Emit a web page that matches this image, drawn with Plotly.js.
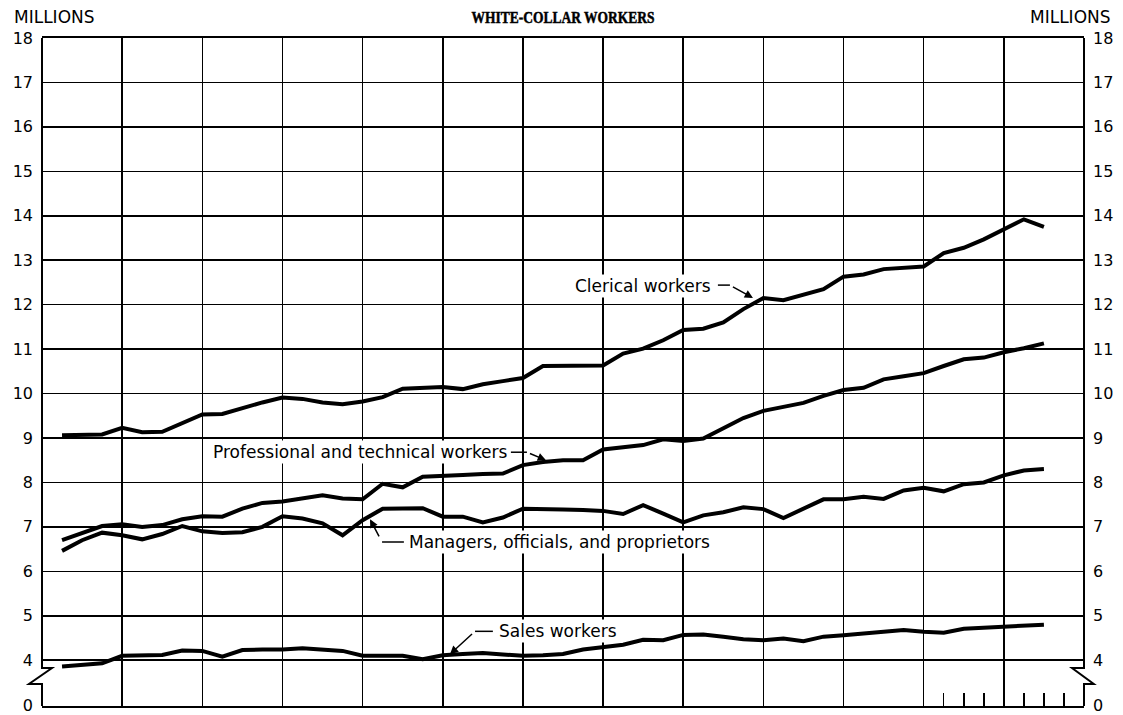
<!DOCTYPE html>
<html>
<head>
<meta charset="utf-8">
<script src="https://cdn.plot.ly/plotly-3.0.1.min.js"></script>
<style>html,body{margin:0;padding:0;background:#fff;}#chart{width:1123px;height:715px;}</style>
</head>
<body>
<div id="chart"></div>
<script>
// Quarterly employment, millions
const clerical = [9.06, 9.07, 9.08, 9.23, 9.13, 9.14, 9.33, 9.53, 9.54, 9.68,
  9.80, 9.91, 9.88, 9.80, 9.76, 9.82, 9.92, 10.11, 10.13, 10.15,
  10.10, 10.21, 10.28, 10.35, 10.62, 10.63, 10.63, 10.63, 10.90, 11.01,
  11.20, 11.43, 11.46, 11.60, 11.90, 12.15, 12.10, 12.22, 12.35, 12.63,
  12.68, 12.80, 12.84, 12.86, 13.16, 13.28, 13.47, 13.70, 13.92, 13.75];
const professional = [6.70, 6.86, 7.02, 7.06, 7.00, 7.04, 7.17, 7.24, 7.23, 7.41,
  7.54, 7.57, 7.64, 7.71, 7.64, 7.62, 7.97, 7.89, 8.13, 8.16,
  8.17, 8.19, 8.20, 8.39, 8.46, 8.50, 8.50, 8.74, 8.79, 8.84,
  8.97, 8.93, 8.99, 9.22, 9.45, 9.61, 9.70, 9.79, 9.95, 10.08,
  10.13, 10.32, 10.39, 10.46, 10.62, 10.77, 10.81, 10.93, 11.02, 11.13];
const managers = [6.46, 6.70, 6.87, 6.81, 6.72, 6.84, 7.02, 6.90, 6.86, 6.88,
  7.00, 7.24, 7.19, 7.08, 6.81, 7.15, 7.41, 7.42, 7.42, 7.23,
  7.23, 7.10, 7.21, 7.41, 7.41, 7.39, 7.38, 7.36, 7.29, 7.49,
  7.30, 7.10, 7.26, 7.33, 7.44, 7.40, 7.20, 7.40, 7.62, 7.62,
  7.68, 7.63, 7.82, 7.88, 7.80, 7.96, 8.00, 8.16, 8.27, 8.30];
const sales = [3.86, 3.90, 3.93, 4.10, 4.12, 4.12, 4.22, 4.21, 4.08, 4.23,
  4.24, 4.24, 4.27, 4.25, 4.21, 4.10, 4.10, 4.10, 4.02, 4.11,
  4.14, 4.16, 4.13, 4.10, 4.11, 4.14, 4.24, 4.30, 4.35, 4.46,
  4.45, 4.57, 4.58, 4.53, 4.47, 4.45, 4.49, 4.43, 4.53, 4.56,
  4.60, 4.65, 4.68, 4.64, 4.62, 4.71, 4.73, 4.75, 4.77, 4.80];

const yTickLabels = ['0','4','5','6','7','8','9','10','11','12','13','14','15','16','17','18'];
const yTickValues = [2.975, 4, 5, 6, 7, 8, 9, 10, 11, 12, 13, 14, 15, 16, 17, 18];
const yearBoundaries = [4, 8, 12, 16, 20, 24, 28, 32, 36, 40, 44, 48];
const quarterMarks = [45, 46, 47, 49, 50, 51];

const quarterIndex = clerical.map((_, i) => i + 1);

const lineStyle = {color: '#000', width: 4};
const traces = [
  {x: quarterIndex, y: clerical, name: 'Clerical workers', mode: 'lines', line: lineStyle},
  {x: quarterIndex, y: professional, name: 'Professional and technical workers', mode: 'lines', line: lineStyle},
  {x: quarterIndex, y: managers, name: 'Managers, officials, and proprietors', mode: 'lines', line: lineStyle},
  {x: quarterIndex, y: sales, name: 'Sales workers', mode: 'lines', line: lineStyle},
  {x: [], y: [], xaxis: 'x2', yaxis: 'y', mode: 'lines', hoverinfo: 'skip'},
  {x: [], y: [], xaxis: 'x', yaxis: 'y2', mode: 'lines', hoverinfo: 'skip'}
];

const tickFont = {family: 'DejaVu Sans', size: 16, color: '#000'};
const labelFont = {family: 'DejaVu Sans', size: 17, color: '#000'};

function label(text, x, y, anchor) {
  return {text: text, x: x, y: y, xref: 'x', yref: 'y', showarrow: false,
    xanchor: anchor, yanchor: 'middle', font: labelFont, bgcolor: '#fff', borderpad: 1};
}
function arrow(x, y, ax, ay) {
  return {x: x, y: y, ax: ax, ay: ay, xref: 'x', yref: 'y', axref: 'x', ayref: 'y',
    showarrow: true, arrowhead: 2, arrowsize: 1.1, arrowwidth: 1.5, arrowcolor: '#000', standoff: 0, startstandoff: 0};
}
function seg(x0, y0, x1, y1) {
  return {type: 'line', xref: 'x', yref: 'y', x0: x0, y0: y0, x1: x1, y1: y1, line: {color: '#000', width: 1.5}};
}

const layout = {
  width: 1123, height: 715,
  margin: {l: 42, r: 39, t: 38, b: 9, pad: 0},
  paper_bgcolor: '#fff', plot_bgcolor: '#fff',
  showlegend: false,
  title: {text: '<b>WHITE-COLLAR WORKERS</b>', font: {family: 'Liberation Serif', size: 13.5, color: '#000'},
    x: 0.5, xref: 'paper', xanchor: 'center', y: 0.976, yref: 'container', yanchor: 'middle'},
  xaxis: {range: [0, 52], tickmode: 'array', tickvals: yearBoundaries, showticklabels: false, ticks: '',
    showgrid: true, gridcolor: '#000', gridwidth: 1.5, showline: true, mirror: true, linecolor: '#000', linewidth: 2,
    zeroline: false, fixedrange: true},
  xaxis2: {overlaying: 'x', anchor: 'y', side: 'bottom', range: [0, 52], tickmode: 'array', tickvals: quarterMarks,
    ticks: 'inside', ticklen: 13, tickwidth: 1.5, tickcolor: '#000', showticklabels: false, showgrid: false,
    showline: false, zeroline: false},
  yaxis: {range: [2.97, 18], tickmode: 'array', tickvals: yTickValues, ticktext: yTickLabels, ticks: '',
    ticklabelstandoff: 8, ticklabeloverflow: 'allow', tickfont: tickFont, showgrid: true, gridcolor: '#000', gridwidth: 1.5,
    showline: false, zeroline: false},
  yaxis2: {overlaying: 'y', side: 'right', anchor: 'x', range: [2.97, 18], tickmode: 'array', tickvals: yTickValues,
    ticktext: yTickLabels, ticks: '', ticklabelstandoff: 8, ticklabeloverflow: 'allow', tickfont: tickFont,
    showgrid: false, showline: false, zeroline: false},
  shapes: [
    {type: 'path', xref: 'paper', yref: 'paper', path: 'M 0 1 L 0 0.0569 L 0.0096 0.0569 L -0.0125 0.0329 L 0 0.0329 L 0 0',
      line: {color: '#000', width: 2}},
    {type: 'path', xref: 'paper', yref: 'paper', path: 'M 1 1 L 1 0.0569 L 0.9885 0.0569 L 1.0094 0.0329 L 1 0.0329 L 1 0',
      line: {color: '#000', width: 2}},
    seg(33.73, 12.44, 34.33, 12.44),
    seg(23.40, 8.68, 24.20, 8.68),
    seg(16.97, 6.66, 18.06, 6.66),
    seg(21.61, 4.65, 22.50, 4.65)
  ],
  annotations: [
    {text: 'MILLIONS', xref: 'paper', yref: 'paper', x: -0.0288, y: 1.0314, xanchor: 'left', yanchor: 'middle',
      showarrow: false, font: {family: 'DejaVu Sans', size: 17, color: '#000'}},
    {text: 'MILLIONS', xref: 'paper', yref: 'paper', x: 1.0278, y: 1.0314, xanchor: 'right', yanchor: 'middle',
      showarrow: false, font: {family: 'DejaVu Sans', size: 17, color: '#000'}},
    label('Clerical workers', 29.99, 12.42, 'center'),
    arrow(35.48, 12.15, 34.33, 12.44),
    label('Professional and technical workers', 15.87, 8.68, 'center'),
    arrow(25.15, 8.50, 24.20, 8.68),
    label('Managers, officials, and proprietors', 18.21, 6.66, 'left'),
    arrow(16.37, 7.17, 16.97, 6.66),
    label('Sales workers', 22.70, 4.66, 'left'),
    arrow(20.36, 4.135, 21.61, 4.65)
  ]
};

Plotly.newPlot('chart', traces, layout, {displayModeBar: false, staticPlot: true}).then(function () {
  // stretch the heavy title vertically, like the printed display face
  var t = document.querySelector('.gtitle');
  if (t) {
    var y = parseFloat(t.getAttribute('y')) || 0;
    t.setAttribute('transform', 'translate(0,' + y + ') scale(1,1.3) translate(0,' + (-y) + ')');
    t.style.strokeWidth = '0.4px';
    t.style.stroke = '#000';
  }
});
</script>
</body>
</html>
